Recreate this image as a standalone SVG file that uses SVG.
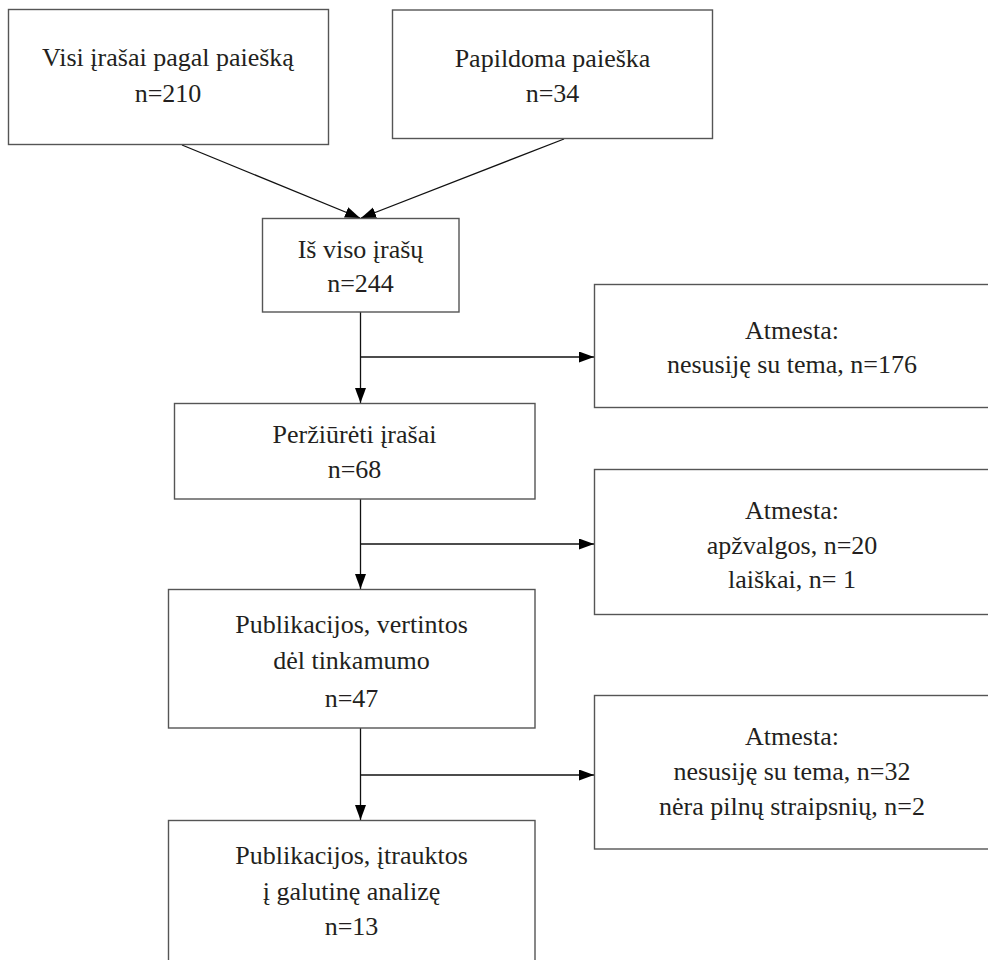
<svg xmlns="http://www.w3.org/2000/svg" width="988" height="960" viewBox="0 0 988 960">
  <style>
    .box { fill: #ffffff; stroke: #555555; stroke-width: 1.4; }
    .lbl { font-family: "Liberation Serif", "DejaVu Serif", serif; font-size: 26px; fill: #231f20; text-anchor: middle; }
    .link { fill: none; stroke: #111111; stroke-width: 1.3; }
    .arrow { marker-end: url(#head); }
  </style>
  <defs>
    <marker id="head" markerUnits="userSpaceOnUse" markerWidth="16" markerHeight="12" refX="15" refY="5.5" orient="auto">
      <path d="M0,0 L15,5.5 L0,11 Z" fill="#000000"/>
    </marker>
  </defs>
  <rect width="988" height="960" fill="#ffffff"/>

  <!-- connectors -->
  <g id="connectors">
    <line class="link arrow" x1="182" y1="145" x2="360" y2="218"/>
    <line class="link arrow" x1="564" y1="139" x2="361" y2="218"/>
    <line class="link arrow" x1="360.5" y1="312" x2="360.5" y2="403"/>
    <line class="link arrow" x1="360.5" y1="357" x2="594" y2="357"/>
    <line class="link arrow" x1="360.5" y1="499" x2="360.5" y2="589"/>
    <line class="link arrow" x1="360.5" y1="544" x2="594" y2="544"/>
    <line class="link arrow" x1="360.5" y1="728" x2="360.5" y2="820"/>
    <line class="link arrow" x1="360.5" y1="775" x2="594" y2="775"/>
  </g>

  <!-- search sources -->
  <g id="node-visi">
    <rect class="box" x="8.5" y="9.5" width="320" height="135"/>
    <text class="lbl" x="168" y="66">Visi įrašai pagal paiešką</text>
    <text class="lbl" x="168" y="102">n=210</text>
  </g>
  <g id="node-papildoma">
    <rect class="box" x="392.5" y="10" width="320" height="128.5"/>
    <text class="lbl" x="552.5" y="67">Papildoma paieška</text>
    <text class="lbl" x="552.5" y="102">n=34</text>
  </g>

  <!-- main column -->
  <g id="node-is-viso">
    <rect class="box" x="262.5" y="218.5" width="196.5" height="93.5"/>
    <text class="lbl" x="360.5" y="258">Iš viso įrašų</text>
    <text class="lbl" x="360.5" y="292">n=244</text>
  </g>
  <g id="node-perziureti">
    <rect class="box" x="174.5" y="403.5" width="360.5" height="95.5"/>
    <text class="lbl" x="354.5" y="443">Peržiūrėti įrašai</text>
    <text class="lbl" x="354.5" y="478">n=68</text>
  </g>
  <g id="node-vertintos">
    <rect class="box" x="168.5" y="589.5" width="366.5" height="138.5"/>
    <text class="lbl" x="351.5" y="633">Publikacijos, vertintos</text>
    <text class="lbl" x="351.5" y="669">dėl tinkamumo</text>
    <text class="lbl" x="351.5" y="707">n=47</text>
  </g>
  <g id="node-itrauktos">
    <rect class="box" x="168.5" y="820.5" width="366.5" height="160"/>
    <text class="lbl" x="351.5" y="864">Publikacijos, įtrauktos</text>
    <text class="lbl" x="351.5" y="900">į galutinę analizę</text>
    <text class="lbl" x="351.5" y="935">n=13</text>
  </g>

  <!-- exclusion boxes -->
  <g id="node-atmesta-1">
    <rect class="box" x="594.5" y="284.5" width="396" height="123"/>
    <text class="lbl" x="792" y="339">Atmesta:</text>
    <text class="lbl" x="792" y="373">nesusiję su tema, n=176</text>
  </g>
  <g id="node-atmesta-2">
    <rect class="box" x="594.5" y="469.5" width="396" height="145"/>
    <text class="lbl" x="792" y="519">Atmesta:</text>
    <text class="lbl" x="792" y="554">apžvalgos, n=20</text>
    <text class="lbl" x="792" y="588">laiškai, n= 1</text>
  </g>
  <g id="node-atmesta-3">
    <rect class="box" x="594.5" y="695.5" width="396" height="153.5"/>
    <text class="lbl" x="792" y="745">Atmesta:</text>
    <text class="lbl" x="792" y="780">nesusiję su tema, n=32</text>
    <text class="lbl" x="792" y="815">nėra pilnų straipsnių, n=2</text>
  </g>
</svg>
